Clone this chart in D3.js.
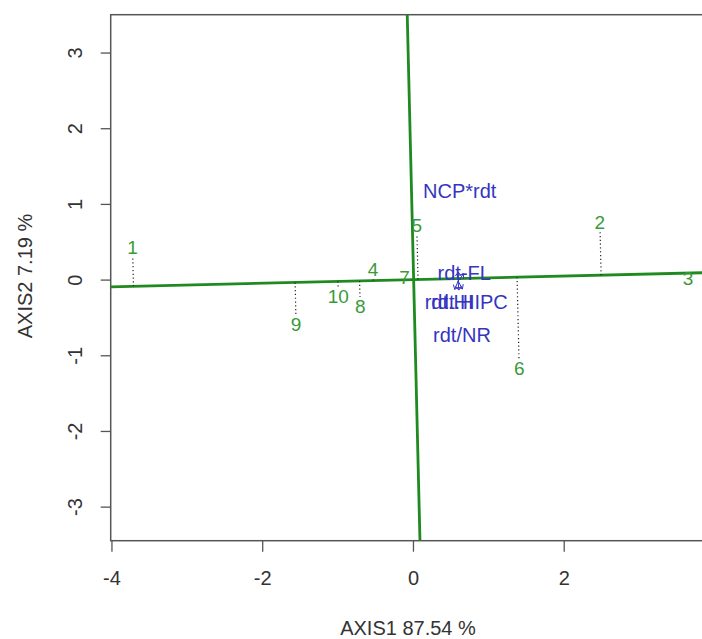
<!DOCTYPE html>
<html>
<head>
<meta charset="utf-8">
<script src="https://cdn.jsdelivr.net/npm/d3@7"></script>
<style>
  body { margin: 0; background: #fff; }
  svg text { font-family: "Liberation Sans", Arial, sans-serif; }
</style>
</head>
<body>
<svg id="drawing_region"></svg>
<script>
// sites (green numbers)
const siteNames = ["1", "2", "3", "4", "5", "6", "7", "8", "9", "10"];
const siteX = [-3.72, 2.48, 3.65, -0.53, 0.05, 1.41, -0.11, -0.70, -1.55, -0.99];
const siteY = [0.42, 0.75, 0.01, 0.13, 0.72, -1.18, 0.03, -0.35, -0.60, -0.22];

// variables (blue labels)
const varNames = ["NCP*rdt", "rdt-FL", "rdt.HI", "rdt.HIPC", "rdt/NR"];
const varX = [0.62, 0.68, 0.48, 0.75, 0.65];
const varY = [1.17, 0.09, -0.30, -0.30, -0.73];
const arrowOrigin = [0.6, -0.02];

// rotated axes drawn in green (end points in data units)
const axisLines = [
    { x1: -4.01, y1: -0.096, x2: 3.95, y2: 0.093 },
    { x1: -0.076, y1: 3.50, x2: 0.093, y2: -3.45 }
];

const xTicks = [-4, -2, 0, 2];
const yTicks = [-3, -2, -1, 0, 1, 2, 3];
const xTitle = "AXIS1 87.54 %";
const yTitle = "AXIS2 7.19 %";

class Biplot {
    constructor(config) {
        this.config = config;
        this.init();
    }
    init() {
        let self = this;
        const c = self.config;
        self.svg = d3.select(c.parent)
            .attr('width', c.width)
            .attr('height', c.height);

        self.chart = self.svg.append('g')
            .attr('transform', `translate(${c.margin.left}, ${c.margin.top})`);

        self.inner_width = c.inner_width;
        self.inner_height = c.inner_height;

        self.xscale = d3.scaleLinear()
            .domain([-4.01, 3.95])
            .range([0, self.inner_width]);
        self.yscale = d3.scaleLinear()
            .domain([-3.45, 3.50])
            .range([self.inner_height, 0]);

        self.svg.append('defs').append('clipPath').attr('id', 'plotclip')
            .append('rect')
            .attr('width', self.inner_width).attr('height', self.inner_height);
    }
    render() {
        let self = this;
        const xs = self.xscale, ys = self.yscale;

        // axes
        const xaxis = d3.axisBottom(xs).tickValues(xTicks).tickSize(11).tickSizeOuter(0)
            .tickFormat(d => String(d));
        const yaxis = d3.axisLeft(ys).tickValues(yTicks).tickSize(10).tickSizeOuter(0)
            .tickFormat(d => String(d));

        const xg = self.chart.append('g')
            .attr('transform', `translate(0, ${self.inner_height})`)
            .call(xaxis);
        const yg = self.chart.append('g').call(yaxis);

        [xg, yg].forEach(g => {
            g.select('.domain').remove();
            g.selectAll('line').attr('stroke', '#555').attr('stroke-width', 1.3);
            g.selectAll('text').attr('fill', '#333').style('font-size', '20px')
                .attr('font-family', null);
        });
        xg.selectAll('text')
            .attr('y', 37).attr('dy', null)
            .attr('dominant-baseline', 'central');
        yg.selectAll('text')
            .attr('x', 0).attr('dy', null)
            .attr('text-anchor', 'middle')
            .attr('dominant-baseline', 'central')
            .attr('transform', 'translate(-36,0) rotate(-90)');

        // frame
        self.chart.append('rect')
            .attr('width', self.inner_width)
            .attr('height', self.inner_height)
            .attr('fill', 'none')
            .attr('stroke', '#555')
            .attr('stroke-width', 1.5);

        const plot = self.chart.append('g').attr('clip-path', 'url(#plotclip)');

        // green axis lines
        plot.selectAll('.axline')
            .data(axisLines)
            .join('line')
            .attr('x1', d => xs(d.x1)).attr('y1', d => ys(d.y1))
            .attr('x2', d => xs(d.x2)).attr('y2', d => ys(d.y2))
            .attr('stroke', '#1f8a1f')
            .attr('stroke-width', 2.8);

        // projections of sites on the first axis
        const L = axisLines[0];
        const ax = xs(L.x1), ay = ys(L.y1), bx = xs(L.x2), by = ys(L.y2);
        const dx = bx - ax, dy = by - ay, len2 = dx * dx + dy * dy;
        const sites = siteNames.map((n, i) => {
            const px = xs(siteX[i]), py = ys(siteY[i]);
            const t = ((px - ax) * dx + (py - ay) * dy) / len2;
            const qx = ax + t * dx, qy = ay + t * dy;
            const d = Math.hypot(px - qx, py - qy);
            const k = d > 9 ? (d - 9) / d : 0;
            return { name: n, px, py, qx, qy, ex: qx + (px - qx) * k, ey: qy + (py - qy) * k };
        });

        plot.selectAll('.proj')
            .data(sites)
            .join('line')
            .attr('x1', d => d.qx).attr('y1', d => d.qy)
            .attr('x2', d => d.ex).attr('y2', d => d.ey)
            .attr('stroke', '#222')
            .attr('stroke-width', 1.2)
            .attr('stroke-dasharray', '1.2,2.6');

        plot.selectAll('.site')
            .data(sites)
            .join('text')
            .attr('x', d => d.px).attr('y', d => d.py)
            .attr('text-anchor', 'middle')
            .attr('dominant-baseline', 'central')
            .attr('fill', '#3a9a3a')
            .style('font-size', '19px')
            .text(d => d.name);

        // small blue arrows
        const ox = xs(arrowOrigin[0]), oy = ys(arrowOrigin[1]);
        const arrows = varNames.map((n, i) => {
            const vx = xs(varX[i]) - ox, vy = ys(varY[i]) - oy;
            const l = Math.hypot(vx, vy) || 1;
            return { x: ox + vx / l * 9, y: oy + vy / l * 9, ux: vx / l, uy: vy / l };
        });
        plot.selectAll('.arr')
            .data(arrows)
            .join('path')
            .attr('d', d => {
                const hx = d.x - d.ux * 4, hy = d.y - d.uy * 4;
                return `M${ox},${oy}L${d.x},${d.y}M${hx - d.uy * 3},${hy + d.ux * 3}L${d.x},${d.y}L${hx + d.uy * 3},${hy - d.ux * 3}`;
            })
            .attr('fill', 'none')
            .attr('stroke', '#3535c0')
            .attr('stroke-width', 1);

        plot.selectAll('.var')
            .data(varNames)
            .join('text')
            .attr('x', (d, i) => xs(varX[i]))
            .attr('y', (d, i) => ys(varY[i]))
            .attr('text-anchor', 'middle')
            .attr('dominant-baseline', 'central')
            .attr('fill', '#3535c0')
            .style('font-size', '20px')
            .text(d => d);

        // axis titles
        self.svg.append('text')
            .attr('x', 408).attr('y', 628)
            .attr('text-anchor', 'middle')
            .attr('dominant-baseline', 'central')
            .attr('fill', '#333')
            .style('font-size', '20px')
            .text(xTitle);
        self.svg.append('text')
            .attr('transform', 'translate(25, 276) rotate(-90)')
            .attr('text-anchor', 'middle')
            .attr('dominant-baseline', 'central')
            .attr('fill', '#333')
            .style('font-size', '20px')
            .text(yTitle);
    }
}

const chart = new Biplot({
    parent: '#drawing_region',
    width: 702,
    height: 639,
    margin: { top: 14.7, left: 110.7 },
    inner_width: 600,
    inner_height: 526
});
chart.render();
</script>
</body>
</html>
